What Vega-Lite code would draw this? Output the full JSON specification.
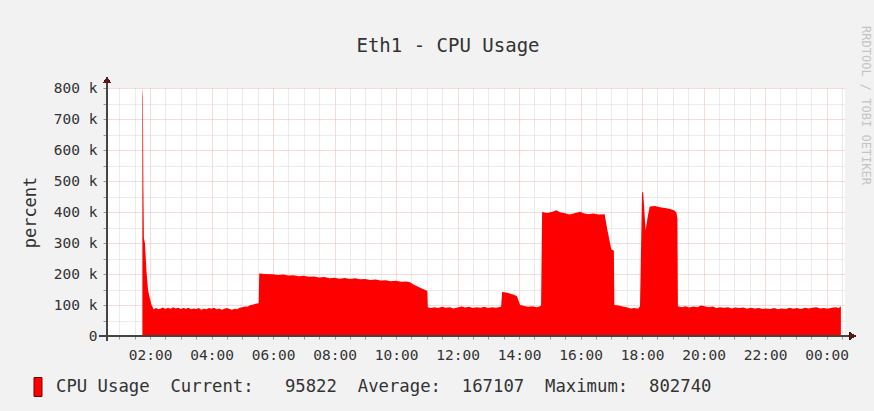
{
  "$schema": "https://vega.github.io/schema/vega-lite/v6.json",
  "autosize": {"type": "none"},
  "padding": {"left": 107, "top": 88, "right": 29, "bottom": 75},
  "width": 738,
  "height": 248,
  "background": "#f2f2f2",
  "config": {
    "view": {"fill": "white", "stroke": null},
    "font": "DejaVu Sans Mono"
  },
  "title": {
    "text": "Eth1 - CPU Usage",
    "font": "DejaVu Sans Mono",
    "fontSize": 19,
    "fontWeight": "normal",
    "color": "#333333",
    "anchor": "middle",
    "frame": "group",
    "dx": -28,
    "dy": 34
  },
  "data": {
    "values": [
      {"t": "2024-01-01T01:45", "v": 802740},
      {"t": "2024-01-01T01:46", "v": 770000},
      {"t": "2024-01-01T01:47", "v": 480000},
      {"t": "2024-01-01T01:48", "v": 315000},
      {"t": "2024-01-01T01:50", "v": 300000},
      {"t": "2024-01-01T01:53", "v": 210000},
      {"t": "2024-01-01T01:56", "v": 150000},
      {"t": "2024-01-01T01:59", "v": 125000},
      {"t": "2024-01-01T02:03", "v": 100000},
      {"t": "2024-01-01T02:07", "v": 86000},
      {"t": "2024-01-01T02:12", "v": 90000},
      {"t": "2024-01-01T02:16", "v": 86000},
      {"t": "2024-01-01T02:20", "v": 88000},
      {"t": "2024-01-01T02:25", "v": 92000},
      {"t": "2024-01-01T02:30", "v": 87000},
      {"t": "2024-01-01T02:35", "v": 91000},
      {"t": "2024-01-01T02:40", "v": 88000},
      {"t": "2024-01-01T02:45", "v": 93000},
      {"t": "2024-01-01T02:50", "v": 89000},
      {"t": "2024-01-01T02:55", "v": 91000},
      {"t": "2024-01-01T03:00", "v": 87000},
      {"t": "2024-01-01T03:05", "v": 90000},
      {"t": "2024-01-01T03:10", "v": 88000},
      {"t": "2024-01-01T03:15", "v": 91000},
      {"t": "2024-01-01T03:20", "v": 86000},
      {"t": "2024-01-01T03:25", "v": 89000},
      {"t": "2024-01-01T03:30", "v": 87000},
      {"t": "2024-01-01T03:35", "v": 90000},
      {"t": "2024-01-01T03:40", "v": 85000},
      {"t": "2024-01-01T03:45", "v": 88000},
      {"t": "2024-01-01T03:50", "v": 86000},
      {"t": "2024-01-01T03:55", "v": 90000},
      {"t": "2024-01-01T04:00", "v": 88000},
      {"t": "2024-01-01T04:05", "v": 91000},
      {"t": "2024-01-01T04:10", "v": 86000},
      {"t": "2024-01-01T04:15", "v": 89000},
      {"t": "2024-01-01T04:20", "v": 85000},
      {"t": "2024-01-01T04:25", "v": 88000},
      {"t": "2024-01-01T04:30", "v": 90000},
      {"t": "2024-01-01T04:35", "v": 87000},
      {"t": "2024-01-01T04:40", "v": 85000},
      {"t": "2024-01-01T04:45", "v": 88000},
      {"t": "2024-01-01T04:50", "v": 86000},
      {"t": "2024-01-01T04:55", "v": 91000},
      {"t": "2024-01-01T05:00", "v": 93000},
      {"t": "2024-01-01T05:05", "v": 95000},
      {"t": "2024-01-01T05:10", "v": 94000},
      {"t": "2024-01-01T05:15", "v": 99000},
      {"t": "2024-01-01T05:20", "v": 101000},
      {"t": "2024-01-01T05:26", "v": 104000},
      {"t": "2024-01-01T05:32", "v": 106000},
      {"t": "2024-01-01T05:33", "v": 202000},
      {"t": "2024-01-01T05:45", "v": 200000},
      {"t": "2024-01-01T06:00", "v": 199000},
      {"t": "2024-01-01T06:10", "v": 197000},
      {"t": "2024-01-01T06:20", "v": 198000},
      {"t": "2024-01-01T06:30", "v": 195000},
      {"t": "2024-01-01T06:40", "v": 196000},
      {"t": "2024-01-01T06:50", "v": 193000},
      {"t": "2024-01-01T07:00", "v": 194000},
      {"t": "2024-01-01T07:10", "v": 191000},
      {"t": "2024-01-01T07:20", "v": 192000},
      {"t": "2024-01-01T07:30", "v": 189000},
      {"t": "2024-01-01T07:40", "v": 190000},
      {"t": "2024-01-01T07:50", "v": 186000},
      {"t": "2024-01-01T08:00", "v": 188000},
      {"t": "2024-01-01T08:10", "v": 185000},
      {"t": "2024-01-01T08:20", "v": 187000},
      {"t": "2024-01-01T08:30", "v": 184000},
      {"t": "2024-01-01T08:40", "v": 186000},
      {"t": "2024-01-01T08:50", "v": 183000},
      {"t": "2024-01-01T09:00", "v": 184000},
      {"t": "2024-01-01T09:10", "v": 181000},
      {"t": "2024-01-01T09:20", "v": 182000},
      {"t": "2024-01-01T09:30", "v": 179000},
      {"t": "2024-01-01T09:40", "v": 180000},
      {"t": "2024-01-01T09:50", "v": 177000},
      {"t": "2024-01-01T10:00", "v": 178000},
      {"t": "2024-01-01T10:10", "v": 175000},
      {"t": "2024-01-01T10:20", "v": 176000},
      {"t": "2024-01-01T10:27", "v": 173000},
      {"t": "2024-01-01T10:35", "v": 165000},
      {"t": "2024-01-01T10:45", "v": 157000},
      {"t": "2024-01-01T10:55", "v": 150000},
      {"t": "2024-01-01T11:01", "v": 145000},
      {"t": "2024-01-01T11:02", "v": 93000},
      {"t": "2024-01-01T11:08", "v": 90000},
      {"t": "2024-01-01T11:15", "v": 93000},
      {"t": "2024-01-01T11:22", "v": 90000},
      {"t": "2024-01-01T11:30", "v": 94000},
      {"t": "2024-01-01T11:37", "v": 91000},
      {"t": "2024-01-01T11:45", "v": 93000},
      {"t": "2024-01-01T11:52", "v": 89000},
      {"t": "2024-01-01T12:00", "v": 92000},
      {"t": "2024-01-01T12:08", "v": 95000},
      {"t": "2024-01-01T12:15", "v": 92000},
      {"t": "2024-01-01T12:22", "v": 94000},
      {"t": "2024-01-01T12:30", "v": 90000},
      {"t": "2024-01-01T12:37", "v": 93000},
      {"t": "2024-01-01T12:45", "v": 91000},
      {"t": "2024-01-01T12:52", "v": 94000},
      {"t": "2024-01-01T13:00", "v": 90000},
      {"t": "2024-01-01T13:08", "v": 93000},
      {"t": "2024-01-01T13:15", "v": 91000},
      {"t": "2024-01-01T13:25", "v": 94000},
      {"t": "2024-01-01T13:27", "v": 142000},
      {"t": "2024-01-01T13:35", "v": 140000},
      {"t": "2024-01-01T13:42", "v": 137000},
      {"t": "2024-01-01T13:50", "v": 133000},
      {"t": "2024-01-01T13:56", "v": 128000},
      {"t": "2024-01-01T14:02", "v": 100000},
      {"t": "2024-01-01T14:10", "v": 97000},
      {"t": "2024-01-01T14:18", "v": 94000},
      {"t": "2024-01-01T14:26", "v": 96000},
      {"t": "2024-01-01T14:34", "v": 93000},
      {"t": "2024-01-01T14:40", "v": 95000},
      {"t": "2024-01-01T14:43", "v": 98000},
      {"t": "2024-01-01T14:45", "v": 400000},
      {"t": "2024-01-01T14:55", "v": 397000},
      {"t": "2024-01-01T15:05", "v": 401000},
      {"t": "2024-01-01T15:13", "v": 406000},
      {"t": "2024-01-01T15:20", "v": 399000},
      {"t": "2024-01-01T15:30", "v": 396000},
      {"t": "2024-01-01T15:39", "v": 392000},
      {"t": "2024-01-01T15:50", "v": 397000},
      {"t": "2024-01-01T15:59", "v": 401000},
      {"t": "2024-01-01T16:06", "v": 396000},
      {"t": "2024-01-01T16:15", "v": 393000},
      {"t": "2024-01-01T16:25", "v": 395000},
      {"t": "2024-01-01T16:35", "v": 392000},
      {"t": "2024-01-01T16:47", "v": 393000},
      {"t": "2024-01-01T16:52", "v": 345000},
      {"t": "2024-01-01T17:00", "v": 280000},
      {"t": "2024-01-01T17:05", "v": 275000},
      {"t": "2024-01-01T17:06", "v": 100000},
      {"t": "2024-01-01T17:14", "v": 98000},
      {"t": "2024-01-01T17:22", "v": 95000},
      {"t": "2024-01-01T17:30", "v": 93000},
      {"t": "2024-01-01T17:38", "v": 89000},
      {"t": "2024-01-01T17:45", "v": 90000},
      {"t": "2024-01-01T17:52", "v": 88000},
      {"t": "2024-01-01T17:56", "v": 96000},
      {"t": "2024-01-01T18:00", "v": 462000},
      {"t": "2024-01-01T18:02", "v": 465000},
      {"t": "2024-01-01T18:07", "v": 340000},
      {"t": "2024-01-01T18:11", "v": 385000},
      {"t": "2024-01-01T18:15", "v": 418000},
      {"t": "2024-01-01T18:25", "v": 419000},
      {"t": "2024-01-01T18:35", "v": 415000},
      {"t": "2024-01-01T18:45", "v": 413000},
      {"t": "2024-01-01T18:55", "v": 410000},
      {"t": "2024-01-01T19:03", "v": 405000},
      {"t": "2024-01-01T19:07", "v": 398000},
      {"t": "2024-01-01T19:09", "v": 380000},
      {"t": "2024-01-01T19:10", "v": 96000},
      {"t": "2024-01-01T19:18", "v": 93000},
      {"t": "2024-01-01T19:25", "v": 96000},
      {"t": "2024-01-01T19:32", "v": 92000},
      {"t": "2024-01-01T19:40", "v": 95000},
      {"t": "2024-01-01T19:48", "v": 93000},
      {"t": "2024-01-01T19:55", "v": 98000},
      {"t": "2024-01-01T20:02", "v": 96000},
      {"t": "2024-01-01T20:10", "v": 93000},
      {"t": "2024-01-01T20:18", "v": 95000},
      {"t": "2024-01-01T20:25", "v": 90000},
      {"t": "2024-01-01T20:32", "v": 93000},
      {"t": "2024-01-01T20:40", "v": 91000},
      {"t": "2024-01-01T20:48", "v": 93000},
      {"t": "2024-01-01T20:55", "v": 89000},
      {"t": "2024-01-01T21:02", "v": 92000},
      {"t": "2024-01-01T21:10", "v": 90000},
      {"t": "2024-01-01T21:18", "v": 92000},
      {"t": "2024-01-01T21:25", "v": 88000},
      {"t": "2024-01-01T21:32", "v": 91000},
      {"t": "2024-01-01T21:40", "v": 89000},
      {"t": "2024-01-01T21:48", "v": 90000},
      {"t": "2024-01-01T21:55", "v": 87000},
      {"t": "2024-01-01T22:02", "v": 89000},
      {"t": "2024-01-01T22:10", "v": 87000},
      {"t": "2024-01-01T22:18", "v": 90000},
      {"t": "2024-01-01T22:25", "v": 86000},
      {"t": "2024-01-01T22:32", "v": 89000},
      {"t": "2024-01-01T22:40", "v": 87000},
      {"t": "2024-01-01T22:48", "v": 91000},
      {"t": "2024-01-01T22:55", "v": 88000},
      {"t": "2024-01-01T23:02", "v": 90000},
      {"t": "2024-01-01T23:10", "v": 87000},
      {"t": "2024-01-01T23:18", "v": 91000},
      {"t": "2024-01-01T23:25", "v": 89000},
      {"t": "2024-01-01T23:32", "v": 91000},
      {"t": "2024-01-01T23:40", "v": 93000},
      {"t": "2024-01-01T23:48", "v": 89000},
      {"t": "2024-01-01T23:55", "v": 90000},
      {"t": "2024-01-02T00:02", "v": 88000},
      {"t": "2024-01-02T00:10", "v": 91000},
      {"t": "2024-01-02T00:18", "v": 93000},
      {"t": "2024-01-02T00:24", "v": 90000},
      {"t": "2024-01-02T00:28", "v": 95822}
    ]
  },
  "layer": [
    {
      "mark": {"type": "area", "color": "#ff0000", "interpolate": "linear"},
      "encoding": {
        "x": {
          "field": "t",
          "type": "temporal",
          "scale": {
            "domain": [
              {"year": 2024, "month": 1, "date": 1, "hours": 0, "minutes": 36},
              {"year": 2024, "month": 1, "date": 2, "hours": 0, "minutes": 36}
            ],
            "nice": false
          },
          "axis": {
            "title": null,
            "orient": "bottom",
            "tickCount": 48,
            "grid": true,
            "gridColor": {"condition": {"test": "minutes(datum.value) == 0 && hours(datum.value) % 2 == 0", "value": "#efb4b4"}, "value": "#d6d6d6"},
            "gridDash": [1, 1],
            "gridWidth": 1,
            "labelExpr": "minutes(datum.value) == 0 && hours(datum.value) % 2 == 0 ? timeFormat(datum.value, '%H:%M') : ''",
            "labelOverlap": false,
            "labelFlush": false,
            "labelFont": "DejaVu Sans Mono",
            "labelFontSize": 14.5,
            "labelColor": "#333333",
            "labelPadding": 9,
            "domain": false,
            "ticks": true,
            "tickSize": 3,
            "tickColor": "#999999"
          }
        },
        "y": {
          "field": "v",
          "type": "quantitative",
          "scale": {"domain": [0, 800000], "nice": false, "zero": true},
          "axis": {
            "orient": "left",
            "title": "percent",
            "titleFont": "DejaVu Sans Mono",
            "titleFontSize": 17,
            "titleFontWeight": "normal",
            "titleColor": "#333333",
            "titleAngle": -90,
            "titleX": -77,
            "titleY": 124,
            "titleAlign": "center",
            "titleBaseline": "middle",
            "values": [0, 50000, 100000, 150000, 200000, 250000, 300000, 350000, 400000, 450000, 500000, 550000, 600000, 650000, 700000, 750000, 800000],
            "grid": true,
            "gridColor": {"condition": {"test": "datum.value % 100000 == 0", "value": "#efb4b4"}, "value": "#d6d6d6"},
            "gridDash": [1, 1],
            "labelExpr": "datum.value % 100000 != 0 ? '' : (datum.value == 0 ? '0' : (datum.value / 1000) + ' k')",
            "labelOverlap": false,
            "labelFont": "DejaVu Sans Mono",
            "labelFontSize": 14.5,
            "labelColor": "#333333",
            "labelPadding": 6,
            "labelBaseline": "middle",
            "domain": false,
            "ticks": true,
            "tickSize": 4,
            "tickColor": "#999999"
          }
        },
        "color": {
          "datum": "CPU Usage",
          "scale": {"range": ["#ff0000"]},
          "legend": {
            "orient": "none",
            "legendX": -79,
            "legendY": 289,
            "title": null,
            "padding": 0,
            "symbolType": "M-0.42,-1L0.42,-1L0.42,1L-0.42,1Z",
            "symbolSize": 361,
            "symbolFillColor": "#ff0000",
            "symbolStrokeColor": "#7a0000",
            "symbolStrokeWidth": 1,
            "symbolOpacity": 1,
            "labelOffset": 8,
            "labelFont": "DejaVu Sans Mono",
            "labelFontSize": 17.3,
            "labelColor": "#333333",
            "labelLimit": 1000,
            "labelExpr": "'CPU Usage\u00a0\u00a0Current:\u00a0\u00a0\u00a095822\u00a0\u00a0Average:\u00a0\u00a0167107\u00a0\u00a0Maximum:\u00a0\u00a0802740'"
          }
        }
      }
    },
    {
      "mark": {"type": "rule", "color": "#444444", "strokeWidth": 1},
      "encoding": {
        "x": {"datum": {"year": 2024, "month": 1, "date": 1, "hours": 0, "minutes": 36}, "type": "temporal"},
        "y": {
          "datum": -15000,
          "type": "quantitative",
          "axis": {
            "orient": "right",
            "title": "RRDTOOL / TOBI OETIKER",
            "titleFont": "DejaVu Sans Mono",
            "titleFontSize": 12,
            "titleFontWeight": "normal",
            "titleColor": "#c4c4c4",
            "titleAngle": 90,
            "titleX": 20,
            "titleY": 17,
            "titleAlign": "center",
            "titleBaseline": "middle",
            "labels": false,
            "ticks": false,
            "domain": false,
            "grid": false
          }
        },
        "y2": {"datum": 820000}
      }
    },
    {
      "mark": {"type": "rule", "color": "#444444", "strokeWidth": 1},
      "encoding": {
        "x": {"datum": {"year": 2024, "month": 1, "date": 1, "hours": 0, "minutes": 22}, "type": "temporal"},
        "x2": {"datum": {"year": 2024, "month": 1, "date": 2, "hours": 0, "minutes": 50}},
        "y": {"datum": 0, "type": "quantitative", "axis": null}
      }
    },
    {
      "mark": {"type": "point", "shape": "triangle-up", "filled": true, "size": 40, "color": "#5a1a1a", "opacity": 1},
      "encoding": {
        "x": {"datum": {"year": 2024, "month": 1, "date": 1, "hours": 0, "minutes": 36}, "type": "temporal"},
        "y": {"datum": 826000, "type": "quantitative", "axis": null}
      }
    },
    {
      "mark": {"type": "point", "shape": "triangle-right", "filled": true, "size": 40, "color": "#5a1a1a", "opacity": 1},
      "encoding": {
        "x": {"datum": {"year": 2024, "month": 1, "date": 2, "hours": 0, "minutes": 51}, "type": "temporal"},
        "y": {"datum": 0, "type": "quantitative", "axis": null}
      }
    }
  ],
  "resolve": {"axis": {"y": "independent"}}
}
